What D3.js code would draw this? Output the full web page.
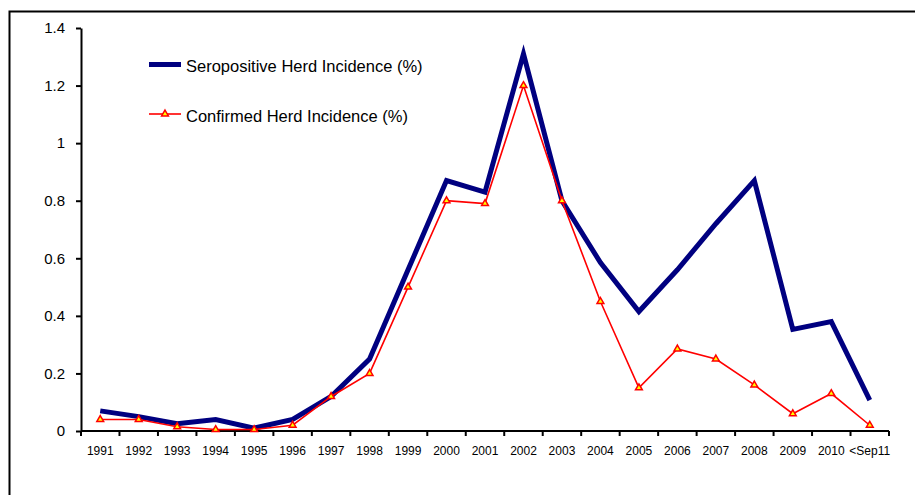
<!DOCTYPE html>
<html>
<head>
<meta charset="utf-8">
<script src="https://cdn.jsdelivr.net/npm/d3@7"></script>
<style>
  body { margin: 0; background: #fff; }
  svg { display: block; font-family: "Liberation Sans", Arial, sans-serif; }
</style>
</head>
<body>
<div class="chart"></div>
<script>
const years = ['1991', '1992', '1993', '1994', '1995', '1996', '1997', '1998', '1999', '2000',
  '2001', '2002', '2003', '2004', '2005', '2006', '2007', '2008', '2009', '2010', '<Sep11'];
const seropositive = [0.07, 0.05, 0.025, 0.04, 0.01, 0.04, 0.12, 0.25, 0.56, 0.87,
  0.83, 1.31, 0.8, 0.585, 0.415, 0.56, 0.72, 0.87, 0.353, 0.38, 0.107];
const confirmed = [0.04, 0.04, 0.015, 0.005, 0.005, 0.02, 0.12, 0.2, 0.5, 0.8,
  0.79, 1.2, 0.8, 0.45, 0.15, 0.285, 0.25, 0.16, 0.06, 0.13, 0.02];
const yTicks = [0, 0.2, 0.4, 0.6, 0.8, 1, 1.2, 1.4];
const seriesNames = ['Seropositive Herd Incidence (%)', 'Confirmed Herd Incidence (%)'];

const width = 915, height = 495;
const margin = { top: 28, right: 26, bottom: 64, left: 81 };

let svg = d3.select('.chart').append('svg')
  .attr('width', width)
  .attr('height', height);

// outer frame (right and bottom edges fall outside the picture)
svg.append('rect')
  .attr('x', 9.5).attr('y', 11.5)
  .attr('width', 1000).attr('height', 1000)
  .style('fill', 'none')
  .style('stroke', '#000')
  .style('stroke-width', 2);

let x = d3.scaleBand().domain(years).range([margin.left, width - margin.right]);
let y = d3.scaleLinear().domain([0, 1.4]).range([height - margin.bottom, margin.top]);

// y axis
let yAxis = d3.axisLeft(y)
  .tickValues(yTicks)
  .tickSize(5)
  .tickSizeOuter(0)
  .tickFormat(d => d === 0 ? '0' : String(+d.toFixed(1)));
let gy = svg.append('g')
  .attr('transform', 'translate(' + margin.left + ',0)')
  .call(yAxis);
gy.select('.domain').style('stroke-width', 2);
gy.selectAll('.tick line').style('stroke-width', 2);
gy.selectAll('.tick text')
  .attr('x', -16)
  .style('font-size', '15px')
  .style('fill', '#000')
  .style('font-family', '"Liberation Sans", Arial, sans-serif');

// x axis: labels centred in bands, ticks on band edges
let y0 = y(0);
let xAxis = d3.axisBottom(x).tickSize(0).tickSizeOuter(0);
let gx = svg.append('g')
  .attr('transform', 'translate(0,' + y0 + ')')
  .call(xAxis);
gx.select('.domain').remove();
gx.selectAll('.tick text')
  .attr('y', 15)
  .style('font-size', '12px')
  .style('fill', '#000')
  .style('font-family', '"Liberation Sans", Arial, sans-serif');

svg.append('line')
  .attr('x1', x.range()[0]).attr('x2', x.range()[1])
  .attr('y1', y0).attr('y2', y0)
  .style('stroke', '#000').style('stroke-width', 2);

let edges = years.map(d => x(d)).concat([x.range()[1]]);
svg.selectAll('.xtick')
  .data(edges)
  .enter().append('line')
  .attr('class', 'xtick')
  .attr('x1', d => d).attr('x2', d => d)
  .attr('y1', y0).attr('y2', y0 + 5)
  .style('stroke', '#000').style('stroke-width', 2);

let cx = d => x(d) + x.bandwidth() / 2;
let line = d3.line()
  .x(d => cx(d.year))
  .y(d => y(d.value));

let seroData = years.map((d, i) => ({ year: d, value: seropositive[i] }));
let confData = years.map((d, i) => ({ year: d, value: confirmed[i] }));

// seropositive line
svg.append('path')
  .datum(seroData)
  .attr('d', line)
  .style('fill', 'none')
  .style('stroke', '#000080')
  .style('stroke-width', 5)
  .style('stroke-linejoin', 'miter');

// confirmed line with triangle markers
svg.append('path')
  .datum(confData)
  .attr('d', line)
  .style('fill', 'none')
  .style('stroke', '#ff0000')
  .style('stroke-width', 1.6);

let tri = d3.symbol().type(d3.symbolTriangle).size(20);
svg.selectAll('.marker')
  .data(confData)
  .enter().append('path')
  .attr('class', 'marker')
  .attr('d', tri)
  .attr('transform', d => 'translate(' + cx(d.year) + ',' + y(d.value) + ')')
  .style('fill', '#ffff00')
  .style('stroke', '#ff0000')
  .style('stroke-width', 1.5);

// legend
let legend = svg.append('g');
legend.append('line')
  .attr('x1', 149).attr('x2', 181).attr('y1', 64.5).attr('y2', 64.5)
  .style('stroke', '#000080').style('stroke-width', 5);
legend.append('text')
  .attr('x', 186).attr('y', 72)
  .style('font-size', '16.5px')
  .text(seriesNames[0]);

legend.append('line')
  .attr('x1', 149).attr('x2', 181).attr('y1', 114).attr('y2', 114)
  .style('stroke', '#ff0000').style('stroke-width', 1.6);
legend.append('path')
  .attr('d', tri)
  .attr('transform', 'translate(165,114)')
  .style('fill', '#ffff00')
  .style('stroke', '#ff0000')
  .style('stroke-width', 1.5);
legend.append('text')
  .attr('x', 186).attr('y', 121.5)
  .style('font-size', '16.5px')
  .text(seriesNames[1]);
</script>
</body>
</html>
